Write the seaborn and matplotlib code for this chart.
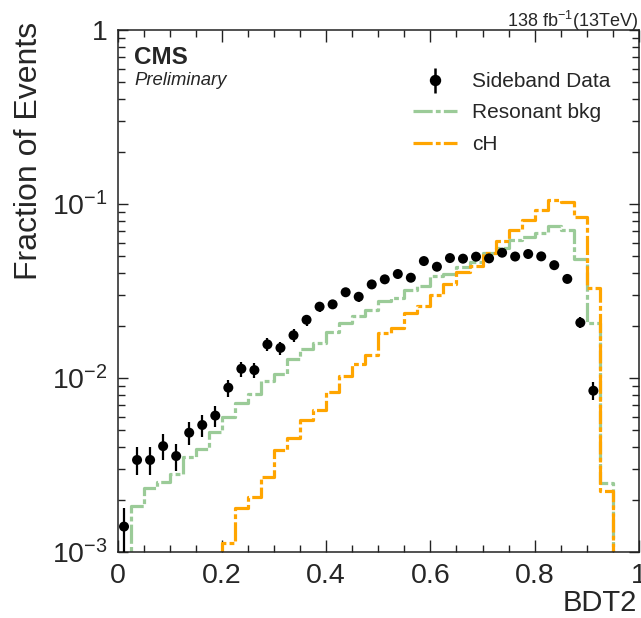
import numpy as np
import pandas as pd
import matplotlib
matplotlib.use("Agg")
import matplotlib.pyplot as plt
from matplotlib.ticker import MultipleLocator, FixedLocator, FixedFormatter, LogLocator, NullFormatter
from matplotlib.lines import Line2D
import seaborn as sns

# ---------------- data ----------------
n_bins = 40
bin_lo, bin_hi = 0.0, 1.0

data_vals = [1.40e-3, 3.38e-3, 3.38e-3, 4.06e-3, 3.56e-3, 4.85e-3, 5.37e-3, 6.08e-3,
             8.8e-3, 1.13e-2, 1.11e-2, 1.56e-2, 1.49e-2, 1.76e-2, 2.16e-2, 2.57e-2,
             2.65e-2, 3.11e-2, 2.93e-2, 3.45e-2, 3.69e-2, 3.96e-2, 3.77e-2, 4.70e-2,
             4.36e-2, 4.89e-2, 4.85e-2, 4.98e-2, 4.87e-2, 5.25e-2, 4.99e-2, 5.16e-2,
             5.00e-2, 4.45e-2, 3.71e-2, 2.08e-2, 8.45e-3, np.nan, np.nan, np.nan]
data_errs = [0.40e-3, 0.62e-3, 0.62e-3, 0.68e-3, 0.64e-3, 0.74e-3, 0.78e-3, 0.83e-3,
             1.00e-3, 1.14e-3, 1.13e-3, 1.34e-3, 1.30e-3, 1.40e-3, 1.57e-3, 1.70e-3,
             1.74e-3, 1.90e-3, 1.83e-3, 2.00e-3, 2.05e-3, 2.13e-3, 2.08e-3, 2.30e-3,
             2.23e-3, 2.37e-3, 2.36e-3, 2.39e-3, 2.36e-3, 2.45e-3, 2.39e-3, 2.43e-3,
             2.39e-3, 2.26e-3, 2.06e-3, 1.54e-3, 0.98e-3, np.nan, np.nan, np.nan]
resonant_bkg = [6e-4, 1.84e-3, 2.32e-3, 2.51e-3, 2.80e-3, 3.50e-3, 3.92e-3, 4.92e-3,
                6.0e-3, 7.15e-3, 8.05e-3, 9.66e-3, 1.06e-2, 1.29e-2, 1.46e-2, 1.58e-2,
                1.84e-2, 2.08e-2, 2.27e-2, 2.46e-2, 2.78e-2, 2.87e-2, 3.20e-2, 3.38e-2,
                3.86e-2, 3.94e-2, 4.33e-2, 4.66e-2, 5.25e-2, 5.56e-2, 6.21e-2, 6.43e-2,
                6.78e-2, 7.48e-2, 7.10e-2, 4.83e-2, 2.06e-2, 2.48e-3, 0.0, 0.0]
cH = [0.0, 0.0, 0.0, 0.0, 0.0, 0.0, 0.0, 0.0,
      1.13e-3, 1.78e-3, 2.06e-3, 2.71e-3, 3.85e-3, 4.50e-3, 5.74e-3, 6.55e-3,
      8.34e-3, 1.03e-2, 1.20e-2, 1.36e-2, 1.81e-2, 1.93e-2, 2.35e-2, 2.59e-2,
      3.00e-2, 3.47e-2, 4.09e-2, 4.41e-2, 5.25e-2, 6.15e-2, 7.10e-2, 8.09e-2,
      9.24e-2, 1.055e-1, 1.03e-1, 8.38e-2, 3.28e-2, 2.25e-3, 0.0, 0.0]

x_ticks = [0.0, 0.2, 0.4, 0.6, 0.8, 1.0]
x_tick_labels = ["0", "0.2", "0.4", "0.6", "0.8", "1"]
y_ticks = [1e-3, 1e-2, 1e-1, 1.0]
y_tick_labels = [r"$\mathdefault{10^{-3}}$", r"$\mathdefault{10^{-2}}$",
                 r"$\mathdefault{10^{-1}}$", "1"]

labels = ["Sideband Data", "Resonant bkg", "cH"]

# ---------------- table ----------------
edges = list(np.linspace(bin_lo, bin_hi, n_bins + 1))
centers = 0.5 * (np.array(edges[:-1]) + np.array(edges[1:]))
df = pd.DataFrame({"x": centers, "data": data_vals, "err": data_errs,
                   "bkg": resonant_bkg, "cH": cH})

# ---------------- style ----------------
sns.set_style("ticks")
plt.rcParams["font.family"] = ["Liberation Sans", "DejaVu Sans"]
plt.rcParams["mathtext.fontset"] = "custom"
plt.rcParams["mathtext.rm"] = "Liberation Sans"
plt.rcParams["mathtext.it"] = "Liberation Sans:italic"
plt.rcParams["mathtext.bf"] = "Liberation Sans:bold"

green = "#9bcb98"
orange = "#ffa500"
dash = (0, (6, 1.0, 1.5, 1.0))
lw = 2.3

fig = plt.figure(figsize=(6.41, 6.18), dpi=100)
W, H = 641, 618
ax = fig.add_axes([117.5 / W, 1 - 552 / H, (639 - 117.5) / W, (552 - 30) / H])
ax.set_yscale("log")

sns.histplot(data=df, x="x", weights="bkg", bins=edges, element="step", fill=False,
             color=green, linewidth=lw, linestyle=dash, ax=ax)
sns.histplot(data=df, x="x", weights="cH", bins=edges, element="step", fill=False,
             color=orange, linewidth=lw, linestyle=dash, ax=ax)

d = df.dropna(subset=["data"])
eb = ax.errorbar(d["x"], d["data"], yerr=d["err"], fmt="none", ecolor="black",
                 elinewidth=1.6, capsize=0, zorder=5)
sns.scatterplot(data=d, x="x", y="data", color="black", s=52, edgecolor="none",
                ax=ax, zorder=6)

ax.set_xlim(bin_lo, bin_hi)
ax.set_ylim(1e-3, 1.0)
ax.set_xlabel("")
ax.set_ylabel("")

ax.xaxis.set_major_locator(FixedLocator(x_ticks))
ax.xaxis.set_major_formatter(FixedFormatter(x_tick_labels))
ax.xaxis.set_minor_locator(MultipleLocator(0.05))
ax.yaxis.set_major_locator(FixedLocator(y_ticks))
ax.yaxis.set_major_formatter(FixedFormatter(y_tick_labels))
ax.yaxis.set_minor_locator(LogLocator(base=10, subs=np.arange(2, 10)))
ax.yaxis.set_minor_formatter(NullFormatter())

ax.tick_params(which="both", direction="in", top=True, right=True,
               color="#222222", width=1.0)
ax.tick_params(axis="x", which="major", length=8.5, labelsize=20.5, pad=8)
ax.tick_params(axis="x", which="minor", length=5)
ax.tick_params(axis="y", which="major", length=7.5, labelsize=20.5, pad=7)
ax.tick_params(axis="y", which="minor", length=5)
for s in ax.spines.values():
    s.set_visible(True)
    s.set_linewidth(1.1)
    s.set_color("#222222")

# legend
h_bkg = Line2D([], [], color=green, linewidth=lw, linestyle=dash)
h_cH = Line2D([], [], color=orange, linewidth=lw, linestyle=dash)
data_handle = (Line2D([], [], color="black", marker="o", markersize=7.2, linestyle="none"),
               Line2D([], [], color="black", marker="|", markersize=18, markeredgewidth=1.8,
                      linestyle="none"))
leg = ax.legend([data_handle, h_bkg, h_cH], labels, loc="upper left",
                bbox_to_anchor=((413 - 117.5) / 521.5, (552 - 72) / 522),
                frameon=False, fontsize=15, handlelength=2.1, handletextpad=0.75,
                labelspacing=0.6, borderpad=0, borderaxespad=0)

# texts
fig.text(134 / W, 1 - 64 / H, "CMS", fontsize=17.5, fontweight="bold", ha="left",
         va="baseline")
fig.text(134 / W, 1 - 85 / H, "Preliminary", fontsize=13.3, fontstyle="italic",
         ha="left", va="baseline")
fig.text(638 / W, 1 - 27 / H, r"138 fb$^{-1}$(13TeV)", fontsize=13, ha="right",
         va="baseline")
fig.text(29 / W, 1 - 22 / H, "Fraction of Events", fontsize=23, rotation=90,
         ha="center", va="top")
fig.text(637 / W, 1 - 611 / H, "BDT2", fontsize=21, ha="right", va="baseline")

fig.savefig("out.png", dpi=100)
